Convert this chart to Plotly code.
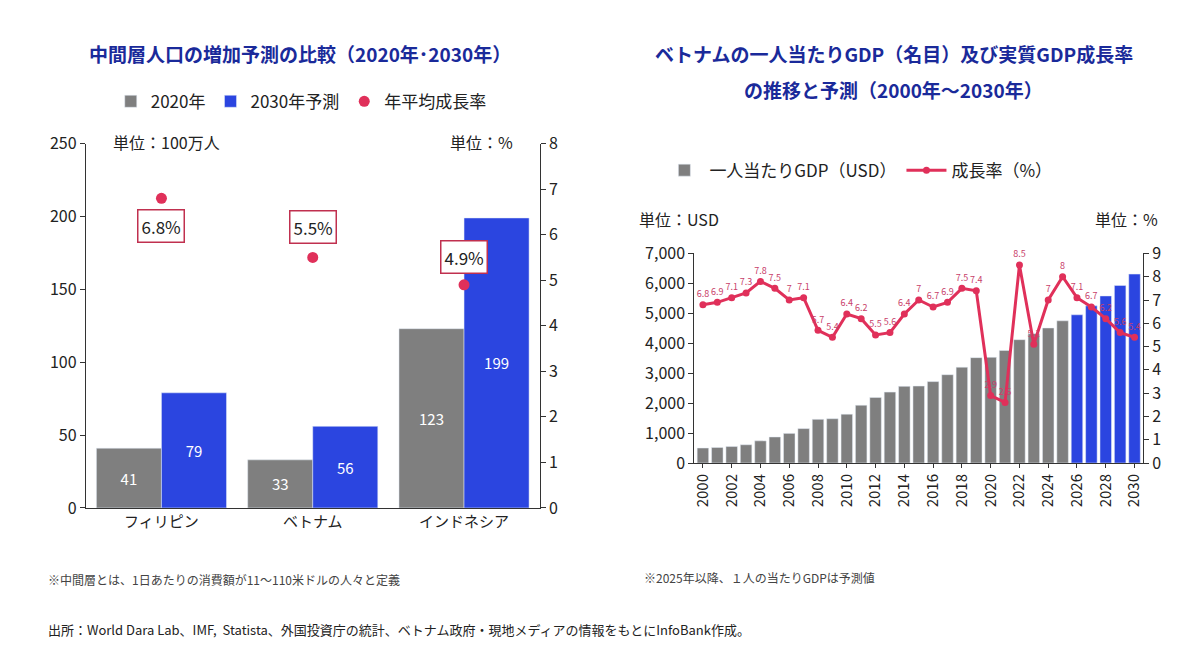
import plotly.graph_objects as go

# Left chart data
countries = ["フィリピン", "ベトナム", "インドネシア"]
mid_2020 = [41, 33, 123]
mid_2030 = [79, 56, 199]
cagr = [6.8, 5.5, 4.9]

# Right chart data
years = list(range(2000, 2031))
gdp = [500, 520, 550, 610, 740, 870, 990, 1150, 1460, 1480, 1630, 1930, 2190, 2370, 2560,
       2570, 2720, 2950, 3200, 3520, 3530, 3760, 4120, 4320, 4510, 4750,
       4950, 5250, 5580, 5930, 6310]
growth = [6.8, 6.9, 7.1, 7.3, 7.8, 7.5, 7.0, 7.1, 5.7, 5.4, 6.4, 6.2, 5.5, 5.6, 6.4,
          7.0, 6.7, 6.9, 7.5, 7.4, 2.9, 2.6, 8.5, 5.1, 7.0, 8.0, 7.1, 6.7, 6.2, 5.6, 5.4]

GRAY = "#7f7f7f"
BLUE = "#2b45e0"
RED = "#e0305a"
FONT = "Noto Sans CJK JP"

def Y(y):
    return 1 - (632 - (632 - y) / 0.965) / 651

fig = go.Figure()
fig.add_bar(x=countries, y=mid_2020, name="2020年", marker_color=GRAY,
            text=mid_2020, textposition="inside", insidetextanchor="middle",
            textfont=dict(color="white", size=15), xaxis="x", yaxis="y", legend="legend")
fig.add_bar(x=countries, y=mid_2030, name="2030年予測", marker_color=BLUE,
            text=mid_2030, textposition="inside", insidetextanchor="middle",
            textfont=dict(color="white", size=15), xaxis="x", yaxis="y", legend="legend")
fig.add_scatter(x=countries, y=cagr, name="年平均成長率", mode="markers",
                marker=dict(color=RED, size=11), xaxis="x", yaxis="y2", legend="legend")

bar_colors = [GRAY if y < 2026 else BLUE for y in years]
fig.add_bar(x=years, y=gdp, name="一人当たりGDP（USD）", marker_color=bar_colors,
            xaxis="x3", yaxis="y3", legend="legend2", width=0.8)
fig.add_scatter(x=years, y=growth, name="成長率（%）", mode="lines+markers+text",
                line=dict(color=RED, width=3), marker=dict(size=7, color=RED),
                text=[f"{g:g}" for g in growth], textposition="top center",
                textfont=dict(color="#c8406a", size=9), cliponaxis=False,
                xaxis="x3", yaxis="y4", legend="legend2")

anns = []
for c, v, dy in zip(countries, cagr, [-28, 30, 28]):
    anns.append(dict(x=c, y=v, xref="x", yref="y2", text=f"{v:.1f}%", showarrow=False,
                     yshift=dy, font=dict(size=17, color="#222"), bordercolor="#c0304f",
                     borderwidth=1.5, bgcolor="white", borderpad=3))

def txt(x, y, s, size=15, color="#222", xanchor="center", weight=None):
    anns.append(dict(x=x, y=Y(y), xref="paper", yref="paper", text=s, showarrow=False,
                     xanchor=xanchor, yanchor="middle",
                     font=dict(size=size, color=color, family=FONT, weight=weight)))

txt(290/1200, 55, "中間層人口の増加予測の比較（2020年･2030年）", 19, "#1a2a9a", weight="bold")
txt(885/1200, 55, "ベトナムの一人当たりGDP（名目）及び実質GDP成長率", 19, "#1a2a9a", weight="bold")
txt(885/1200, 91, "の推移と予測（2000年～2030年）", 19, "#1a2a9a", weight="bold")
txt(100/1200, 143, "単位：100万人", 16, xanchor="left")
txt(438/1200, 143, "単位：%", 16, xanchor="left")
txt(628/1200, 221, "単位：USD", 16, xanchor="left")
txt(1085/1200, 221, "単位：%", 16, xanchor="left")
txt(35/1200, 582, "※中間層とは、1日あたりの消費額が11～110米ドルの人々と定義", 12, "#444", xanchor="left")
txt(633/1200, 580, "※2025年以降、１人の当たりGDPは予測値", 12, "#444", xanchor="left")
txt(35/1200, 632, "出所：World Dara Lab、IMF,  Statista、外国投資庁の統計、ベトナム政府・現地メディアの情報をもとにInfoBank作成。", 13, "#222", xanchor="left")

ax = dict(showgrid=False, zeroline=False, showline=True, linecolor="#333", ticks="outside",
          tickcolor="#333", tickfont=dict(size=16, color="#222"))
fig.update_layout(
    width=1200, height=651, margin=dict(l=0, r=0, t=0, b=0),
    plot_bgcolor="white", paper_bgcolor="white",
    font=dict(family=FONT, color="#222"),
    barmode="group", bargap=0.14, bargroupgap=0.0,
    xaxis=dict(domain=[75/1200, 530/1200], anchor="y", showline=True, linecolor="#333",
               ticks="", tickfont=dict(size=15, color="#222")),
    yaxis=dict(ax, domain=[Y(510), Y(145)], range=[0, 250], dtick=50, anchor="x"),
    yaxis2=dict(ax, overlaying="y", side="right", anchor="x", range=[0, 8], dtick=1),
    xaxis3=dict(ax, domain=[685/1200, 1135/1200], anchor="y3", range=[1999.4, 2030.6],
                tickvals=list(range(2000, 2031, 2)), tickangle=-90, tickfont=dict(size=15),
                ticklen=4),
    yaxis3=dict(ax, domain=[Y(465), Y(255)], range=[0, 7000], dtick=1000,
                tickformat=",", anchor="x3"),
    yaxis4=dict(ax, overlaying="y3", side="right", anchor="x3", range=[0, 9], dtick=1),
    legend=dict(orientation="h", x=100/1200, y=Y(103), xanchor="left", yanchor="middle",
                font=dict(size=17), itemwidth=30, bgcolor="rgba(0,0,0,0)"),
    legend2=dict(orientation="h", x=650/1200, y=Y(172), xanchor="left", yanchor="middle",
                 font=dict(size=17), itemwidth=40, bgcolor="rgba(0,0,0,0)"),
    annotations=anns,
)
fig.write_html("out.html")
